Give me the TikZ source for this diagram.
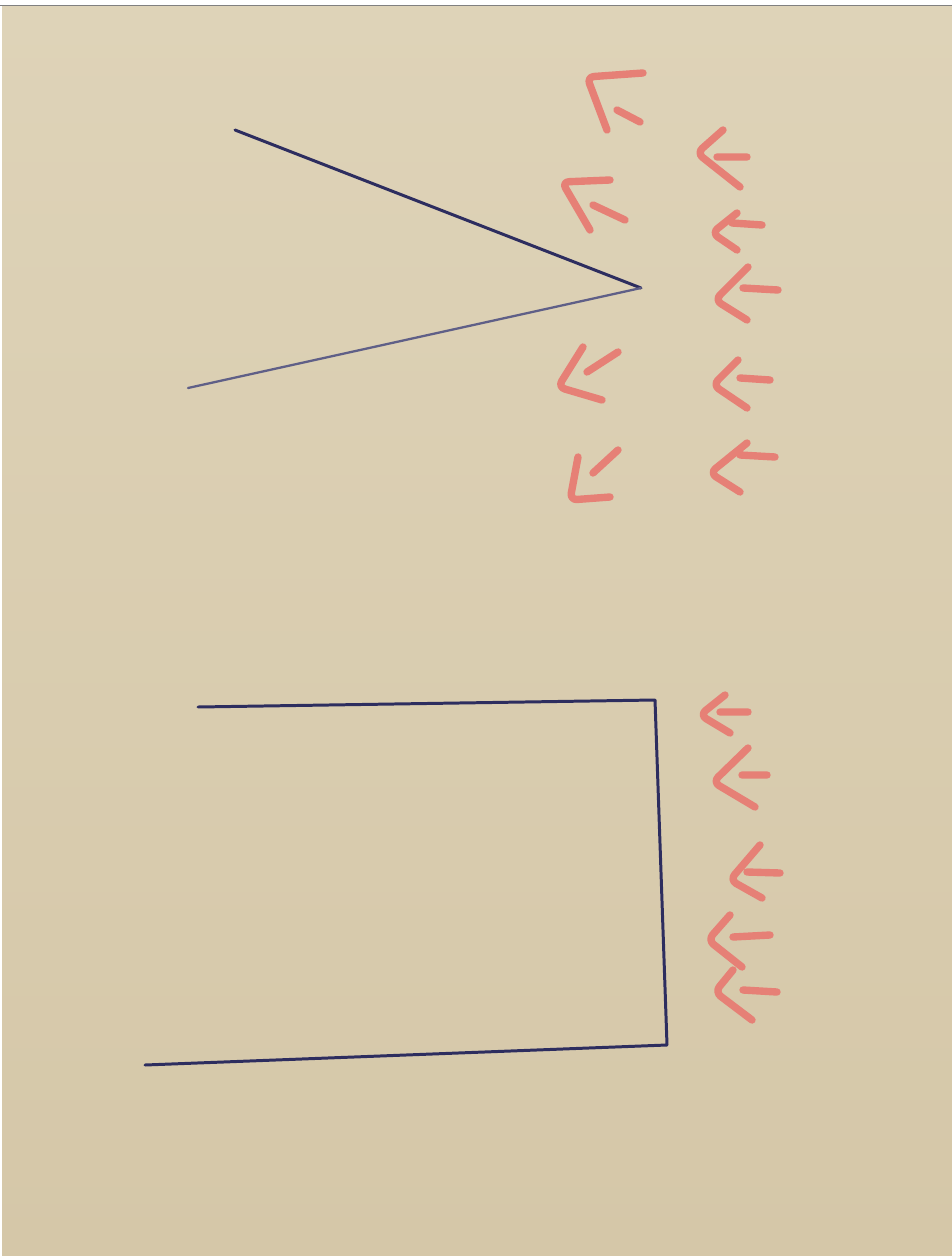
\documentclass[tikz,border=0pt]{standalone}
\usetikzlibrary{calc}
\definecolor{paper}{RGB}{222,211,184}
\definecolor{paperdark}{RGB}{213,199,168}
\definecolor{pen}{RGB}{45,45,95}
\definecolor{penlight}{RGB}{95,95,135}
\definecolor{marker}{RGB}{230,128,118}
\tikzset{
  blueline/.style={pen,line width=1.7pt,line cap=round,line join=round},
  chev/.style={marker,line width=4.2pt,line cap=round,line join=round,rounded corners=4pt}
}
\begin{document}
\begin{tikzpicture}[x=0.02cm,y=-0.02cm]
\useasboundingbox (0,0) rectangle (952,1256);
\fill[white] (0,0) rectangle (952,1256);
\shade[top color=paper,bottom color=paperdark] (2,6) rectangle (952,1256);
\draw[gray,line width=0.6pt] (0,5.5)--(952,5.5);
% the wedge
\coordinate (tip) at (641,288);
\draw[blueline] (235,130)--(tip);
\draw[blueline,penlight,line width=1.3pt] (188,388)--(tip);
% the open box
\draw[blueline] (198,707)--(655,700)--(667,1045)--(145,1065);
% arrows round the wedge, inner row
\draw[chev] (643,73)--(587,77)--(607,130) (617,110)--(640,122);
\draw[chev] (610,180)--(562,182)--(590,230) (593,205)--(625,220);
\draw[chev] (583,347)--(558,387)--(602,400) (587,372)--(618,352);
\draw[chev] (578,457)--(570,500)--(610,497) (593,473)--(618,450);
% outer row
\draw[chev] (723,130)--(697,153)--(740,187) (717,157)--(747,157);
\draw[chev] (737,213)--(712,233)--(737,250) (732,223)--(762,225);
\draw[chev] (748,267)--(715,300)--(747,320) (743,288)--(778,290);
\draw[chev] (738,360)--(713,385)--(747,408) (740,378)--(770,380);
\draw[chev] (747,443)--(710,473)--(740,492) (740,455)--(775,457);
% arrows against the box
\draw[chev] (725,695)--(700,715)--(730,733) (720,712)--(748,712);
\draw[chev] (748,748)--(713,782)--(755,807) (742,775)--(767,775);
\draw[chev] (760,845)--(730,880)--(762,898) (747,872)--(780,873);
\draw[chev] (730,915)--(708,940)--(742,967) (733,937)--(770,935);
\draw[chev] (733,970)--(715,992)--(752,1020) (743,990)--(777,992);
\end{tikzpicture}
\end{document}
